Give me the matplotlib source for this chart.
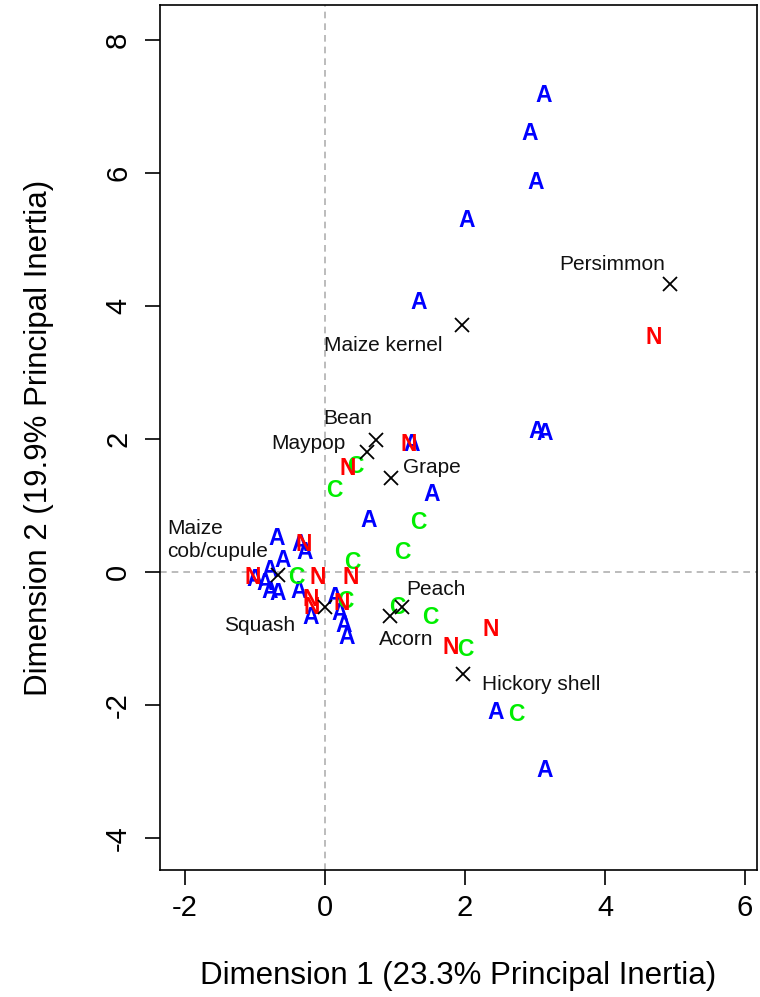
import numpy as np
import matplotlib
matplotlib.use("Agg")
import matplotlib.pyplot as plt

plt.rcParams["font.family"] = ["Liberation Sans", "DejaVu Sans"]

# row points (sites), coded by group letter
a_x = [3.13, 2.93, 3.01, 2.03, 1.34, 3.03, 3.14, 1.24, 1.53, 0.63, 2.44, 3.14,
       -0.69, -0.36, -0.29, -0.61, -0.79, -1.00, -0.86, -0.79, -0.67, -0.37,
       -0.21, 0.14, 0.21, 0.26, 0.31]
a_y = [7.16, 6.60, 5.85, 5.29, 4.06, 2.11, 2.09, 1.91, 1.16, 0.78, -2.11, -2.99,
       0.51, 0.42, 0.29, 0.17, 0.02, -0.11, -0.17, -0.30, -0.33, -0.29,
       -0.68, -0.38, -0.62, -0.81, -0.99]

c_x = [0.13, 0.44, 1.33, 1.11, 0.39, -0.41, 0.29, 1.04, 1.51, 2.00, 2.73]
c_y = [1.23, 1.59, 0.74, 0.30, 0.15, -0.09, -0.44, -0.53, -0.68, -1.17, -2.15]

n_x = [4.70, 1.19, 0.33, -0.31, -1.04, -0.11, 0.36, -0.21, -0.19, 0.24, 1.79, 2.36]
n_y = [3.52, 1.91, 1.56, 0.41, -0.09, -0.09, -0.08, -0.42, -0.54, -0.48, -1.13, -0.86]

# column points (plant taxa)
taxa = ["Persimmon", "Maize kernel", "Bean", "Maypop", "Grape",
        "Maize\ncob/cupule", "Squash", "Peach", "Acorn", "Hickory shell"]
taxa_x = [4.93, 1.96, 0.73, 0.60, 0.94, -0.67, 0.00, 1.10, 0.93, 1.97]
taxa_y = [4.33, 3.71, 1.98, 1.80, 1.41, -0.05, -0.53, -0.53, -0.66, -1.53]

# label placement (pixel offsets from the marker, alignment)
lab_off = [(-58, 20, "center"), (-79, -20, "center"), (-28, 22, "center"),
           (-59, 9, "center"), (41, 11, "center"), (-111, 35, "left"),
           (-65, -18, "center"), (34, 18, "center"), (16, -24, "center"),
           (78, -11, "center")]

fig = plt.figure(figsize=(7.6, 9.97), dpi=100)
ax = fig.add_axes([160 / 760, 127 / 997, 597 / 760, 865 / 997])

ax.set_xlim(-2.357, 6.171)
ax.set_ylim(-4.481, 8.526)

ax.axhline(0, color="#b0b0b0", lw=1.2, ls=(0, (4, 3)), zorder=1)
ax.axvline(0, color="#b0b0b0", lw=1.2, ls=(0, (4, 3)), zorder=1)

groups = [(a_x, a_y, "A", "#0000FF"), (c_x, c_y, "C", "#00EE00"),
          (n_x, n_y, "N", "#FF0000")]
for gx, gy, letter, col in groups:
    for x, y in zip(gx, gy):
        ax.text(x, y, letter, ha="center", va="center", color=col,
                fontsize=16.5, fontweight="bold", zorder=3)

ax.plot(taxa_x, taxa_y, ls="none", marker="x", ms=10, mew=1.3,
        color="black", zorder=4)
for name, x, y, (dx, dy, ha) in zip(taxa, taxa_x, taxa_y, lab_off):
    ax.annotate(name, (x, y), xytext=(dx, dy), textcoords="offset pixels",
                ha=ha, va="center", fontsize=15, color="#111111",
                multialignment="left", linespacing=1.25, zorder=5)

ax.set_xticks([-2, 0, 2, 4, 6])
ax.set_yticks([-4, -2, 0, 2, 4, 6, 8])
ax.set_xticklabels(["-2", "0", "2", "4", "6"])
ax.set_yticklabels(["-4", "-2", "0", "2", "4", "6", "8"])
ax.tick_params(axis="both", direction="out", length=11, width=1.2,
               labelsize=21)
ax.tick_params(axis="x", pad=6)
ax.tick_params(axis="y", pad=9, labelrotation=90)
for lbl in ax.get_yticklabels():
    lbl.set_va("center")

for sp in ax.spines.values():
    sp.set_linewidth(1.2)

ax.set_xlabel("Dimension 1 (23.3% Principal Inertia)", fontsize=22.5,
              labelpad=28)
ax.set_ylabel("Dimension 2 (19.9% Principal Inertia)", fontsize=22.5,
              labelpad=36)

fig.savefig("out.png", dpi=100, facecolor="white")
